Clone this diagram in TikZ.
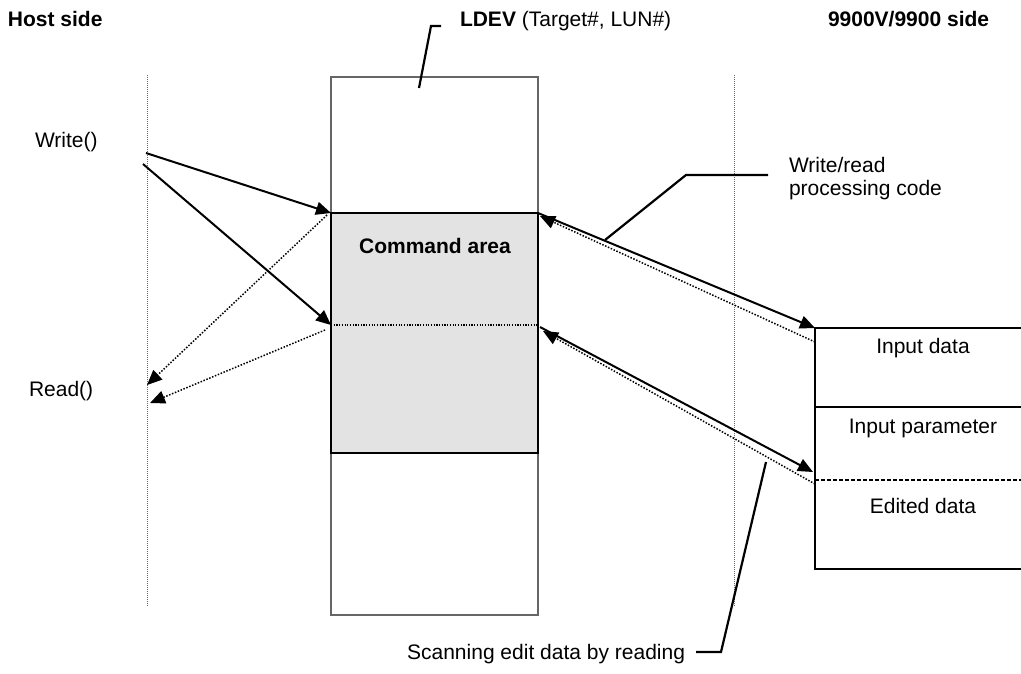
\documentclass[tikz,border=0pt]{standalone}
\usepackage{fontspec}
\setmainfont{Liberation Sans}
\usetikzlibrary{arrows.meta}
\begin{document}
\begin{tikzpicture}[x=1pt,y=-1pt,
  every node/.style={font=\fontsize{21}{25}\selectfont, inner sep=0pt, outer sep=0pt},
  tip/.style={-{Triangle[length=15pt,width=13pt]}},
  solidarrow/.style={tip, line width=2pt},
  dotarrow/.style={tip, line width=1.5pt, dash pattern=on 1.5pt off 1.6pt},
  sepline/.style={black!60, line width=1pt, dash pattern=on 1pt off 1pt},
  callout/.style={line width=2.2pt},
  divider/.style={line width=1.2pt, dash pattern=on 1.2pt off 1.5pt},
  dashdivider/.style={line width=1.2pt, dash pattern=on 4pt off 2pt},
  ldevbox/.style={draw=black!60, line width=1.3pt, anchor=north west},
  cmdbox/.style={draw=black, line width=2.2pt, fill=black!11, anchor=north west},
  databox/.style={draw=black, line width=2.4pt, anchor=north west},
  lbl/.style={anchor=base west},
]
\useasboundingbox (0,0) rectangle (1021,673);

% headers
\node[lbl, font=\fontsize{21}{25}\selectfont\bfseries] (host) at (8,26) {Host side};
\node[lbl] (ldevlbl) at (460,26) {\textbf{LDEV} (Target\#, LUN\#)};
\node[lbl, font=\fontsize{21}{25}\selectfont\bfseries] (dkc) at (828,26) {9900V/9900 side};

% separators
\coordinate (hostT) at (147,75);
\coordinate (hostB) at (147,607);
\coordinate (dkcT) at (734,75);
\coordinate (dkcB) at (734,607);
\draw[sepline] (hostT) -- (hostB);
\draw[sepline] (dkcT) -- (dkcB);

% LDEV and command area
\node[ldevbox, minimum width=207pt, minimum height=538pt] (ldev) at (331,77) {};
\node[cmdbox, minimum width=207pt, minimum height=240pt] (cmd) at (331,213) {};
\coordinate (cmdmidW) at (331,325);
\coordinate (cmdmidE) at (538,325);
\draw[divider] (cmdmidW) -- (cmdmidE);
\node[anchor=base, font=\fontsize{21}{25}\selectfont\bfseries] (cmdlbl) at (435,253) {Command area};

% data boxes
\node[databox, minimum width=215pt, minimum height=79pt] (indata) at (815,328) {};
\node[databox, minimum width=215pt, minimum height=162pt] (inpar) at (815,407) {};
\coordinate (dashW) at (815,480);
\coordinate (dashE) at (1030,480);
\draw[dashdivider] (dashW) -- (dashE);
\node[anchor=base] (indatalbl) at (923,353) {Input data};
\node[anchor=base] (inparlbl) at (923,433) {Input parameter};
\node[anchor=base] (editlbl) at (923,513) {Edited data};

% host side labels
\node[lbl] (write) at (35,147) {Write()};
\node[lbl] (read) at (29,396) {Read()};

% host arrows
\coordinate (w1) at (146,153);
\coordinate (w2) at (143,164);
\coordinate (r1) at (147,385);
\coordinate (r2) at (150,403);
\draw[solidarrow] (w1) -- (cmd.north west);
\draw[solidarrow] (w2) -- (cmdmidW);
\draw[dotarrow] ([shift={(-4,2)}]cmd.north west) -- (r1);
\draw[dotarrow] ([shift={(-6,5)}]cmdmidW) -- (r2);

% storage side arrows
\draw[solidarrow] (cmd.north east) -- (indata.north west);
\draw[dotarrow] ([shift={(0,14)}]indata.north west) -- ([shift={(2,3)}]cmd.north east);
\draw[solidarrow] ([shift={(2,2)}]cmdmidE) -- ([shift={(-2,65)}]inpar.north west);
\draw[dotarrow] ([shift={(0,77)}]inpar.north west) -- ([shift={(5,6)}]cmdmidE);

% callouts
\coordinate (ldevA) at (419,88);
\coordinate (ldevB) at (431,26);
\coordinate (ldevC) at (441,26);
\draw[callout] (ldevA) -- (ldevB) -- (ldevC);

\coordinate (wrA) at (605,240);
\coordinate (wrB) at (686,175);
\coordinate (wrC) at (768,175);
\draw[callout] (wrA) -- (wrB) -- (wrC);
\node[lbl] (wr1) at (789,172) {Write/read};
\node[lbl] (wr2) at (789,195) {processing code};

\coordinate (scA) at (766,462);
\coordinate (scB) at (721,652);
\coordinate (scC) at (696,652);
\draw[callout] (scA) -- (scB) -- (scC);
\node[anchor=base east] (scan) at (685,659) {Scanning edit data by reading};
\end{tikzpicture}
\end{document}
